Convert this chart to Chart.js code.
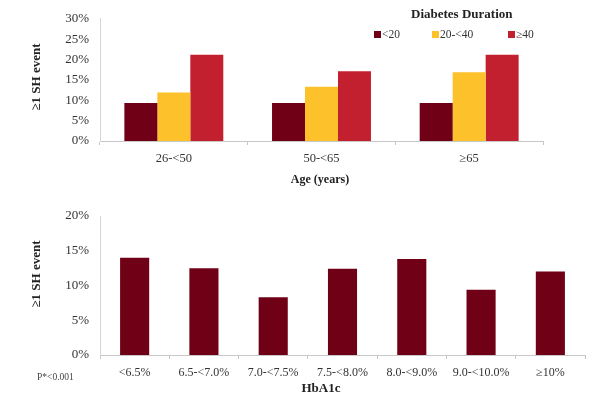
<!DOCTYPE html>
<html>
<head>
<meta charset="utf-8">
<script src="https://cdn.jsdelivr.net/npm/chart.js@4.4.0/dist/chart.umd.min.js"></script>
<style>
  body { margin: 0; background: #fff; }
  #wrap { position: relative; width: 593px; height: 395px; font-family: "Liberation Serif", "DejaVu Serif", serif; color: #222; }
  #ageBox { position: absolute; left: 0; top: 0; width: 593px; height: 190px; }
  #hbaBox { position: absolute; left: 0; top: 195px; width: 593px; height: 200px; }
  #legend { position: absolute; left: 370px; top: 6px; width: 190px; font-size: 11.5px; color: #333; }
  #legend .ttl { position: absolute; left: 41px; top: 0; font-weight: bold; font-size: 13px; white-space: nowrap; color: #222; }
  #legend .item { position: absolute; top: 22px; white-space: nowrap; }
  #legend .sw { display: inline-block; width: 7px; height: 7px; margin-right: 1px; }
  #pnote { position: absolute; left: 37px; top: 372px; font-size: 9.5px; color: #444; }
</style>
</head>
<body>
<div id="wrap">
  <div id="ageBox"><canvas id="ageChart" width="593" height="190"></canvas></div>
  <div id="hbaBox"><canvas id="hbaChart" width="593" height="200"></canvas></div>
  <div id="legend"></div>
  <div id="pnote">P*&lt;0.001</div>
</div>
<script>
// age groups x diabetes duration
const ageGroups = ['26-<50', '50-<65', '≥65'];
const durationLabels = ['<20', '20-<40', '≥40'];
const durShort = [9.3, 9.3, 9.3];
const durMid = [11.9, 13.3, 16.9];
const durLong = [21.2, 17.1, 21.2];
const ageTicks = [0, 5, 10, 15, 20, 25, 30];

// HbA1c bands
const hbaBands = ['<6.5%', '6.5-<7.0%', '7.0-<7.5%', '7.5-<8.0%', '8.0-<9.0%', '9.0-<10.0%', '≥10%'];
const hbaRates = [14.0, 12.5, 8.3, 12.4, 13.8, 9.4, 12.0];
const hbaTicks = [0, 5, 10, 15, 20];

const DARK = '#6f0016';
const YELLOW = '#fcc12b';
const RED = '#c3202f';
const serif = '"Liberation Serif", "DejaVu Serif", serif';

// axis captions drawn at fixed spots instead of the scale titles
const captions = {
    id: 'captions',
    afterDraw(chart, args, opts) {
        const ctx = chart.ctx;
        ctx.save();
        ctx.fillStyle = '#222';
        ctx.textAlign = 'center';
        ctx.textBaseline = 'middle';
        (opts.items || []).forEach(c => {
            ctx.font = 'bold ' + c.size + 'px ' + serif;
            ctx.save();
            ctx.translate(c.x, c.y);
            if (c.rotate) ctx.rotate(-Math.PI / 2);
            ctx.fillText(c.text, 0, 0);
            ctx.restore();
        });
        ctx.restore();
    }
};

function yAxis(ticks) {
    return {
        min: ticks[0],
        max: ticks[ticks.length - 1],
        afterBuildTicks: s => { s.ticks = ticks.map(v => ({ value: v })); },
        afterFit: s => { s.width = 100; },
        grid: { display: false, drawTicks: false },
        border: { display: true, color: '#d6d6d6', width: 1 },
        ticks: { color: '#333', font: { family: serif, size: 13 }, padding: 11, callback: v => v + '%' }
    };
}

function xAxis(height, tickPad, fontSize) {
    return {
        afterFit: s => { s.height = height; },
        grid: { display: true, drawOnChartArea: false, drawTicks: true, tickLength: 4, color: '#c8c8c8' },
        border: { display: true, color: '#c8c8c8', width: 1 },
        ticks: { color: '#333', font: { family: serif, size: fontSize }, padding: tickPad, maxRotation: 0, autoSkip: false }
    };
}

new Chart(document.getElementById('ageChart'), {
    type: 'bar',
    data: {
        labels: ageGroups,
        datasets: [
            { label: durationLabels[0], data: durShort, backgroundColor: DARK },
            { label: durationLabels[1], data: durMid, backgroundColor: YELLOW },
            { label: durationLabels[2], data: durLong, backgroundColor: RED }
        ]
    },
    options: {
        responsive: false,
        animation: false,
        layout: { padding: { left: 0, top: 15, right: 50, bottom: 0 } },
        datasets: { bar: { categoryPercentage: 0.67, barPercentage: 1 } },
        plugins: {
            legend: { display: false },
            tooltip: { enabled: false },
            captions: {
                items: [
                    { text: '≥1 SH event', x: 37, y: 77, size: 13, rotate: true },
                    { text: 'Age (years)', x: 320, y: 180, size: 12 }
                ]
            }
        },
        scales: {
            x: xAxis(49, 6, 12.5),
            y: yAxis(ageTicks)
        }
    },
    plugins: [captions]
});

new Chart(document.getElementById('hbaChart'), {
    type: 'bar',
    data: {
        labels: hbaBands,
        datasets: [{ label: 'HbA1c', data: hbaRates, backgroundColor: DARK }]
    },
    options: {
        responsive: false,
        animation: false,
        layout: { padding: { left: 0, top: 21, right: 8, bottom: 0 } },
        datasets: { bar: { categoryPercentage: 0.42, barPercentage: 1 } },
        plugins: {
            legend: { display: false },
            tooltip: { enabled: false },
            captions: {
                items: [
                    { text: '≥1 SH event', x: 37, y: 79, size: 13, rotate: true },
                    { text: 'HbA1c', x: 321, y: 194, size: 13 }
                ]
            }
        },
        scales: {
            x: xAxis(40, 7, 12),
            y: yAxis(hbaTicks)
        }
    },
    plugins: [captions]
});

// duration legend sits inside the top plot
const legend = document.getElementById('legend');
legend.innerHTML = '<div class="ttl">Diabetes Duration</div>';
const swatches = [DARK, YELLOW, RED];
const itemLeft = [4, 62, 138];
durationLabels.forEach((lab, i) => {
    const el = document.createElement('div');
    el.className = 'item';
    el.style.left = itemLeft[i] + 'px';
    const sw = document.createElement('span');
    sw.className = 'sw';
    sw.style.background = swatches[i];
    el.appendChild(sw);
    el.appendChild(document.createTextNode(lab));
    legend.appendChild(el);
});
</script>
</body>
</html>
